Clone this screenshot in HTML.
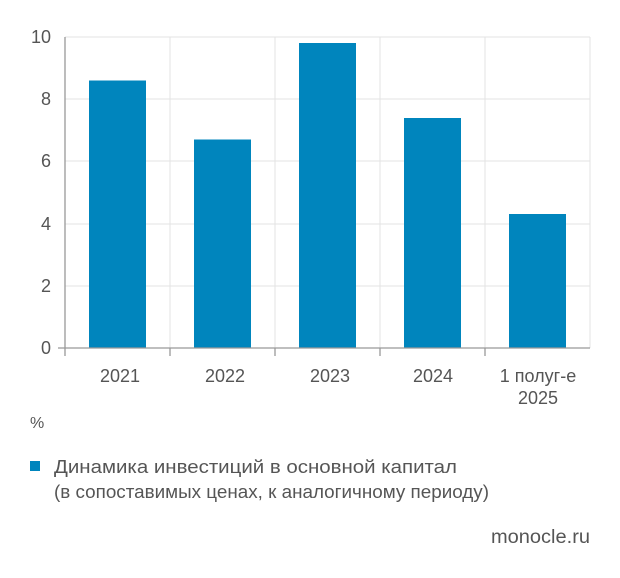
<!DOCTYPE html>
<html><head><meta charset="utf-8"><style>
body{margin:0;background:#fff;width:620px;height:573px;overflow:hidden;font-family:"Liberation Sans","DejaVu Sans",sans-serif;}
</style></head><body>
<svg width="620" height="573" xmlns="http://www.w3.org/2000/svg" font-family="Liberation Sans, DejaVu Sans, sans-serif">
<g stroke="#e3e3e3" stroke-width="1">
<line x1="65" y1="37" x2="590" y2="37"/><line x1="65" y1="99" x2="590" y2="99"/>
<line x1="65" y1="161" x2="590" y2="161"/><line x1="65" y1="224" x2="590" y2="224"/>
<line x1="65" y1="286" x2="590" y2="286"/>
<line x1="170" y1="37" x2="170" y2="348"/><line x1="275" y1="37" x2="275" y2="348"/>
<line x1="380" y1="37" x2="380" y2="348"/><line x1="485" y1="37" x2="485" y2="348"/>
<line x1="590" y1="37" x2="590" y2="348"/>
</g>
<g fill="#0085bd">
<rect x="89" y="80.5" width="57" height="267.5"/>
<rect x="194" y="139.5" width="57" height="208.5"/>
<rect x="299" y="43" width="57" height="305"/>
<rect x="404" y="118" width="57" height="230"/>
<rect x="509" y="214" width="57" height="134"/>
</g>
<g stroke="#999" stroke-width="1.3">
<line x1="65" y1="37" x2="65" y2="356"/>
<line x1="58" y1="348" x2="590" y2="348"/>
<line x1="170" y1="348" x2="170" y2="356"/><line x1="275" y1="348" x2="275" y2="356"/>
<line x1="380" y1="348" x2="380" y2="356"/><line x1="485" y1="348" x2="485" y2="356"/>
</g>
<g fill="#555" font-size="18" text-anchor="end">
<text x="51" y="43">10</text><text x="51" y="105">8</text><text x="51" y="167">6</text>
<text x="51" y="230">4</text><text x="51" y="292">2</text><text x="51" y="354">0</text>
</g>
<g fill="#555" font-size="18" text-anchor="middle">
<text x="120" y="382">2021</text><text x="225" y="382">2022</text><text x="330" y="382">2023</text>
<text x="433" y="382">2024</text><text x="538" y="382">1 полуг-е</text><text x="538" y="404">2025</text>
</g>
<text x="30" y="428" fill="#555" font-size="16">%</text>
<rect x="30" y="461" width="10" height="10" fill="#0085bd"/>
<text x="54" y="473" fill="#555" font-size="18" textLength="403" lengthAdjust="spacingAndGlyphs">Динамика инвестиций в основной капитал</text>
<text x="54" y="498" fill="#555" font-size="18" textLength="435" lengthAdjust="spacingAndGlyphs">(в сопоставимых ценах, к аналогичному периоду)</text>
<text x="590" y="543" fill="#555" font-size="19" text-anchor="end" textLength="99" lengthAdjust="spacingAndGlyphs">monocle.ru</text>
</svg>
</body></html>
